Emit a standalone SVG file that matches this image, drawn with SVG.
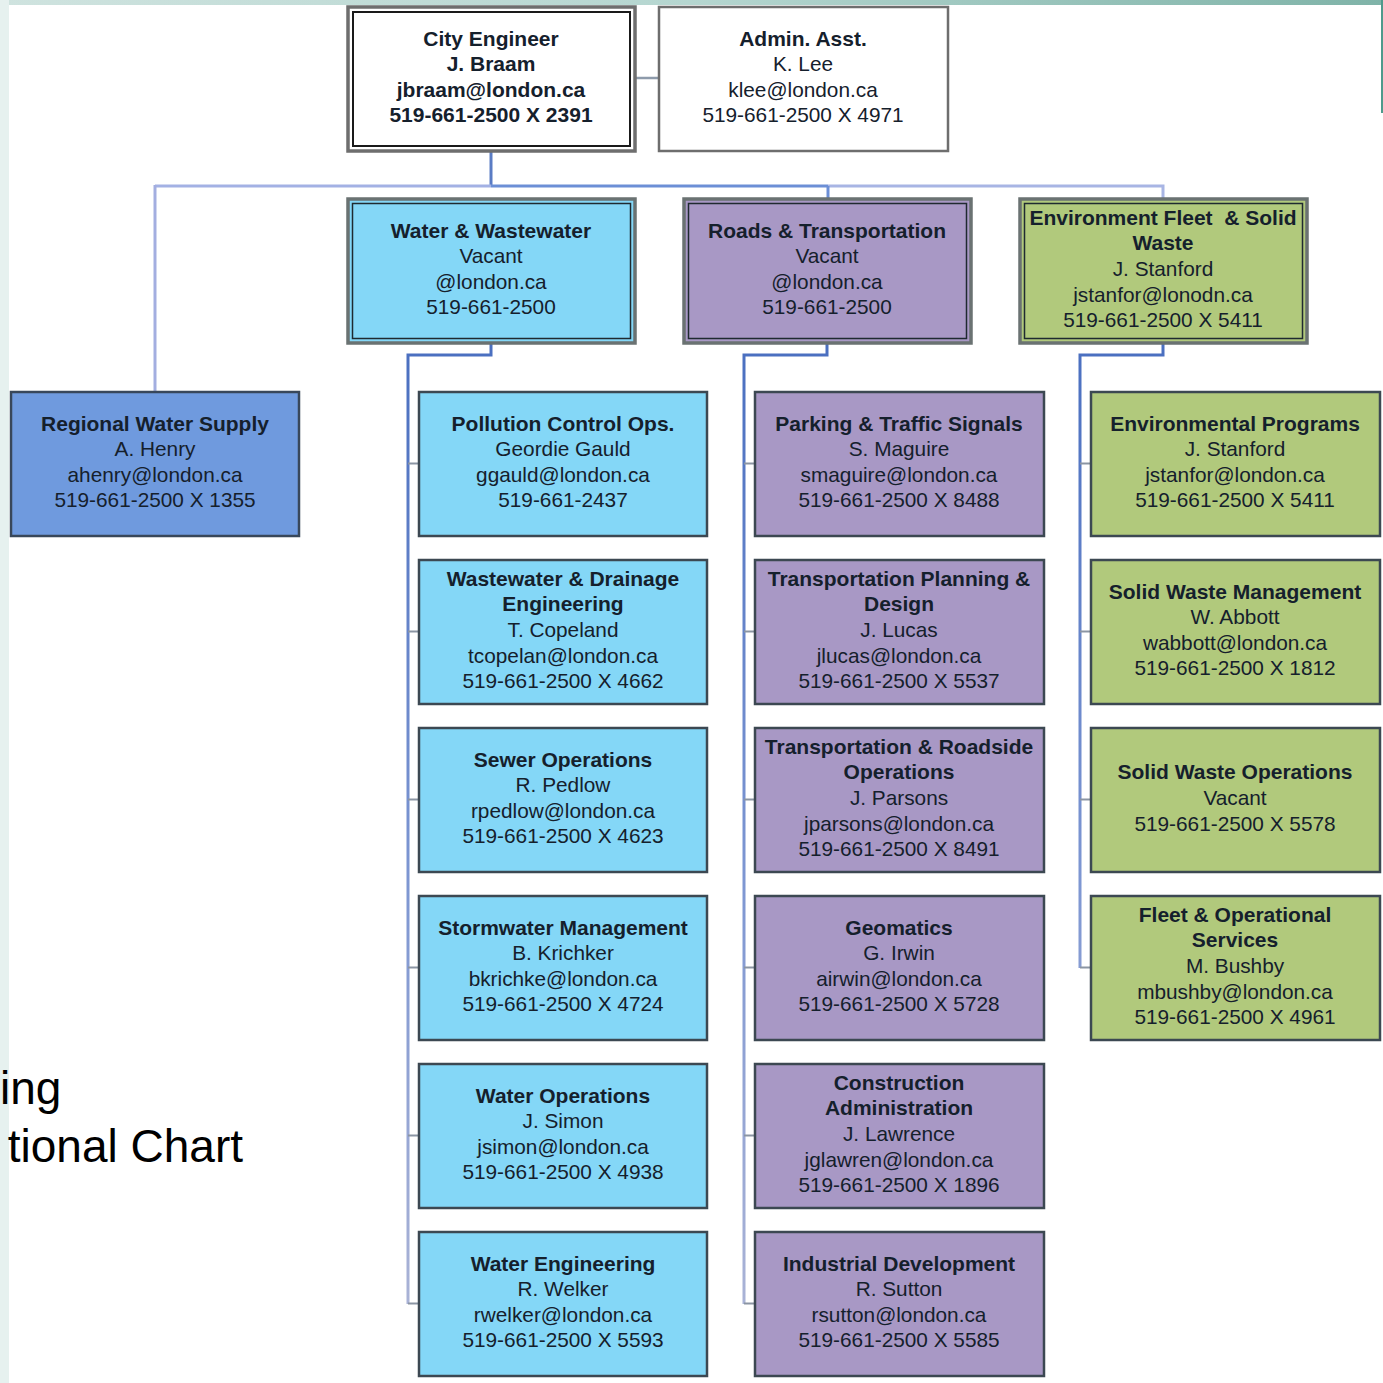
<svg xmlns="http://www.w3.org/2000/svg" width="1383" height="1383" viewBox="0 0 1383 1383">
<defs>
<style>
text{text-anchor:middle;font-family:"Liberation Sans",Arial,sans-serif;fill:#15202c}
.b{font-weight:bold;font-size:21px}
.r{font-size:20.8px}
.title{font-size:46px;fill:#000}
.child{stroke:#3c4852;stroke-width:2.5}
.water{fill:#84d7f7}
.roads{fill:#a898c5}
.env{fill:#b1c97c}
.divouter{stroke:#6a7272;stroke-width:3.5}
.divinner{fill:none;stroke:#1f2a30;stroke-width:1.5}
.conn{fill:none;stroke-width:3}
.tick{stroke:#8b95a3;stroke-width:2;fill:none}
</style>
<linearGradient id="trunk" gradientUnits="userSpaceOnUse" x1="0" y1="343" x2="0" y2="1310">
<stop offset="0" stop-color="#4a6fc0"/>
<stop offset="0.55" stop-color="#7d96d2"/>
<stop offset="1" stop-color="#aab3d6"/>
</linearGradient>
<linearGradient id="topband" x1="0" y1="0" x2="1" y2="0">
<stop offset="0" stop-color="#cfe3df"/>
<stop offset="0.5" stop-color="#b5d6d0"/>
<stop offset="1" stop-color="#7fb3a8"/>
</linearGradient>
</defs>
<rect x="0" y="0" width="1383" height="1383" fill="#ffffff"/>
<g id="background">
<rect x="0" y="0" width="1383" height="5" fill="url(#topband)"/>
<rect x="0" y="0" width="9" height="1383" fill="#e6f1ef"/>
<rect x="1381" y="0" width="2" height="113" fill="#4f9a8c"/>
</g>
<g id="title">
<text class="title" x="0" y="1104" style="text-anchor:start">ing</text>
<text class="title" x="243" y="1162" style="text-anchor:end">tional Chart</text>
</g>
<g id="connectors">
<line x1="635" y1="78" x2="659" y2="78" stroke="#8e9bab" stroke-width="2.5"/>
<line x1="491" y1="151" x2="491" y2="187" stroke="#5a7cc4" stroke-width="3"/>
<line x1="155" y1="186" x2="491" y2="186" stroke="#a3b1e4" stroke-width="3"/>
<line x1="491" y1="186" x2="828" y2="186" stroke="#6c8fd6" stroke-width="3"/>
<polyline points="828,186 1163,186 1163,198" fill="none" stroke="#a8b5e4" stroke-width="3"/>
<line x1="155" y1="185" x2="155" y2="391" stroke="#a3aee0" stroke-width="3"/>
<line x1="828" y1="186" x2="828" y2="198" stroke="#6c8fd6" stroke-width="3"/>
<polyline class="conn" points="491,343 491,355 408,355 408,1304" stroke="url(#trunk)"/>
<polyline class="conn" points="827,343 827,355 744,355 744,1304" stroke="url(#trunk)"/>
<polyline class="conn" points="1163,343 1163,355 1080,355 1080,968" stroke="url(#trunk)"/>
<path class="tick" d="M408 463.5H419M408 631.5H419M408 799.5H419M408 967.5H419M408 1135.5H419M408 1303.5H419"/>
<path class="tick" d="M744 463.5H755M744 631.5H755M744 799.5H755M744 967.5H755M744 1135.5H755M744 1303.5H755"/>
<path class="tick" d="M1080 463.5H1091M1080 631.5H1091M1080 799.5H1091M1080 967.5H1091"/>
</g>
<g id="city-engineer">
<rect x="348" y="7" width="287" height="144" fill="#fff" stroke="#6e6e6e" stroke-width="3.5"/>
<rect x="353" y="12" width="277" height="134" fill="none" stroke="#1a1a1a" stroke-width="2"/>
<text x="491" y="45.6"><tspan class="b" x="491">City Engineer</tspan><tspan class="b" x="491" dy="25.6">J. Braam</tspan><tspan class="b" x="491" dy="25.6">jbraam@london.ca</tspan><tspan class="b" x="491" dy="25.6">519-661-2500 X 2391</tspan></text>
</g>
<g id="admin-asst">
<rect x="659" y="7" width="289" height="144" fill="#fff" stroke="#6e6e6e" stroke-width="2.5"/>
<text x="803" y="45.6"><tspan class="b" x="803">Admin. Asst.</tspan><tspan class="r" x="803" dy="25.6">K. Lee</tspan><tspan class="r" x="803" dy="25.6">klee@london.ca</tspan><tspan class="r" x="803" dy="25.6">519-661-2500 X 4971</tspan></text>
</g>
<g id="water-wastewater">
<rect class="water divouter" x="348" y="199" width="287" height="144"/>
<rect class="divinner" x="352.5" y="203.5" width="278" height="135"/>
<text x="491" y="237.6"><tspan class="b" x="491">Water &amp; Wastewater</tspan><tspan class="r" x="491" dy="25.6">Vacant</tspan><tspan class="r" x="491" dy="25.6">@london.ca</tspan><tspan class="r" x="491" dy="25.6">519-661-2500</tspan></text>
</g>
<g id="roads-transportation">
<rect class="roads divouter" x="684" y="199" width="287" height="144"/>
<rect class="divinner" x="688.5" y="203.5" width="278" height="135"/>
<text x="827" y="237.6"><tspan class="b" x="827">Roads &amp; Transportation</tspan><tspan class="r" x="827" dy="25.6">Vacant</tspan><tspan class="r" x="827" dy="25.6">@london.ca</tspan><tspan class="r" x="827" dy="25.6">519-661-2500</tspan></text>
</g>
<g id="environment-fleet">
<rect class="env divouter" x="1020" y="199" width="287" height="144"/>
<rect class="divinner" x="1024.5" y="203.5" width="278" height="135"/>
<text x="1163" y="224.8" style="white-space:pre"><tspan class="b" x="1163">Environment Fleet  &amp; Solid</tspan><tspan class="b" x="1163" dy="25.6">Waste</tspan><tspan class="r" x="1163" dy="25.6">J. Stanford</tspan><tspan class="r" x="1163" dy="25.6">jstanfor@lonodn.ca</tspan><tspan class="r" x="1163" dy="25.6">519-661-2500 X 5411</tspan></text>
</g>
<g id="regional-water-supply">
<rect x="11" y="392" width="288" height="144" fill="#6f9ade" stroke="#38475a" stroke-width="2.5"/>
<text x="155" y="430.6"><tspan class="b" x="155">Regional Water Supply</tspan><tspan class="r" x="155" dy="25.6">A. Henry</tspan><tspan class="r" x="155" dy="25.6">ahenry@london.ca</tspan><tspan class="r" x="155" dy="25.6">519-661-2500 X 1355</tspan></text>
</g>
<g id="pollution-control">
<rect class="child water" x="419" y="392" width="288" height="144"/>
<text x="563" y="430.6"><tspan class="b" x="563">Pollution Control Ops.</tspan><tspan class="r" x="563" dy="25.6">Geordie Gauld</tspan><tspan class="r" x="563" dy="25.6">ggauld@london.ca</tspan><tspan class="r" x="563" dy="25.6">519-661-2437</tspan></text>
</g>
<g id="wastewater-drainage">
<rect class="child water" x="419" y="560" width="288" height="144"/>
<text x="563" y="585.8"><tspan class="b" x="563">Wastewater &amp; Drainage</tspan><tspan class="b" x="563" dy="25.6">Engineering</tspan><tspan class="r" x="563" dy="25.6">T. Copeland</tspan><tspan class="r" x="563" dy="25.6">tcopelan@london.ca</tspan><tspan class="r" x="563" dy="25.6">519-661-2500 X 4662</tspan></text>
</g>
<g id="sewer-operations">
<rect class="child water" x="419" y="728" width="288" height="144"/>
<text x="563" y="766.6"><tspan class="b" x="563">Sewer Operations</tspan><tspan class="r" x="563" dy="25.6">R. Pedlow</tspan><tspan class="r" x="563" dy="25.6">rpedlow@london.ca</tspan><tspan class="r" x="563" dy="25.6">519-661-2500 X 4623</tspan></text>
</g>
<g id="stormwater-management">
<rect class="child water" x="419" y="896" width="288" height="144"/>
<text x="563" y="934.6"><tspan class="b" x="563">Stormwater Management</tspan><tspan class="r" x="563" dy="25.6">B. Krichker</tspan><tspan class="r" x="563" dy="25.6">bkrichke@london.ca</tspan><tspan class="r" x="563" dy="25.6">519-661-2500 X 4724</tspan></text>
</g>
<g id="water-operations">
<rect class="child water" x="419" y="1064" width="288" height="144"/>
<text x="563" y="1102.6"><tspan class="b" x="563">Water Operations</tspan><tspan class="r" x="563" dy="25.6">J. Simon</tspan><tspan class="r" x="563" dy="25.6">jsimon@london.ca</tspan><tspan class="r" x="563" dy="25.6">519-661-2500 X 4938</tspan></text>
</g>
<g id="water-engineering">
<rect class="child water" x="419" y="1232" width="288" height="144"/>
<text x="563" y="1270.6"><tspan class="b" x="563">Water Engineering</tspan><tspan class="r" x="563" dy="25.6">R. Welker</tspan><tspan class="r" x="563" dy="25.6">rwelker@london.ca</tspan><tspan class="r" x="563" dy="25.6">519-661-2500 X 5593</tspan></text>
</g>
<g id="parking-traffic">
<rect class="child roads" x="755" y="392" width="289" height="144"/>
<text x="899" y="430.6"><tspan class="b" x="899">Parking &amp; Traffic Signals</tspan><tspan class="r" x="899" dy="25.6">S. Maguire</tspan><tspan class="r" x="899" dy="25.6">smaguire@london.ca</tspan><tspan class="r" x="899" dy="25.6">519-661-2500 X 8488</tspan></text>
</g>
<g id="transportation-planning">
<rect class="child roads" x="755" y="560" width="289" height="144"/>
<text x="899" y="585.8"><tspan class="b" x="899">Transportation Planning &amp;</tspan><tspan class="b" x="899" dy="25.6">Design</tspan><tspan class="r" x="899" dy="25.6">J. Lucas</tspan><tspan class="r" x="899" dy="25.6">jlucas@london.ca</tspan><tspan class="r" x="899" dy="25.6">519-661-2500 X 5537</tspan></text>
</g>
<g id="transportation-roadside">
<rect class="child roads" x="755" y="728" width="289" height="144"/>
<text x="899" y="753.8"><tspan class="b" x="899">Transportation &amp; Roadside</tspan><tspan class="b" x="899" dy="25.6">Operations</tspan><tspan class="r" x="899" dy="25.6">J. Parsons</tspan><tspan class="r" x="899" dy="25.6">jparsons@london.ca</tspan><tspan class="r" x="899" dy="25.6">519-661-2500 X 8491</tspan></text>
</g>
<g id="geomatics">
<rect class="child roads" x="755" y="896" width="289" height="144"/>
<text x="899" y="934.6"><tspan class="b" x="899">Geomatics</tspan><tspan class="r" x="899" dy="25.6">G. Irwin</tspan><tspan class="r" x="899" dy="25.6">airwin@london.ca</tspan><tspan class="r" x="899" dy="25.6">519-661-2500 X 5728</tspan></text>
</g>
<g id="construction-administration">
<rect class="child roads" x="755" y="1064" width="289" height="144"/>
<text x="899" y="1089.8"><tspan class="b" x="899">Construction</tspan><tspan class="b" x="899" dy="25.6">Administration</tspan><tspan class="r" x="899" dy="25.6">J. Lawrence</tspan><tspan class="r" x="899" dy="25.6">jglawren@london.ca</tspan><tspan class="r" x="899" dy="25.6">519-661-2500 X 1896</tspan></text>
</g>
<g id="industrial-development">
<rect class="child roads" x="755" y="1232" width="289" height="144"/>
<text x="899" y="1270.6"><tspan class="b" x="899">Industrial Development</tspan><tspan class="r" x="899" dy="25.6">R. Sutton</tspan><tspan class="r" x="899" dy="25.6">rsutton@london.ca</tspan><tspan class="r" x="899" dy="25.6">519-661-2500 X 5585</tspan></text>
</g>
<g id="environmental-programs">
<rect class="child env" x="1091" y="392" width="289" height="144"/>
<text x="1235" y="430.6"><tspan class="b" x="1235">Environmental Programs</tspan><tspan class="r" x="1235" dy="25.6">J. Stanford</tspan><tspan class="r" x="1235" dy="25.6">jstanfor@london.ca</tspan><tspan class="r" x="1235" dy="25.6">519-661-2500 X 5411</tspan></text>
</g>
<g id="solid-waste-management">
<rect class="child env" x="1091" y="560" width="289" height="144"/>
<text x="1235" y="598.6"><tspan class="b" x="1235">Solid Waste Management</tspan><tspan class="r" x="1235" dy="25.6">W. Abbott</tspan><tspan class="r" x="1235" dy="25.6">wabbott@london.ca</tspan><tspan class="r" x="1235" dy="25.6">519-661-2500 X 1812</tspan></text>
</g>
<g id="solid-waste-operations">
<rect class="child env" x="1091" y="728" width="289" height="144"/>
<text x="1235" y="779.4"><tspan class="b" x="1235">Solid Waste Operations</tspan><tspan class="r" x="1235" dy="25.6">Vacant</tspan><tspan class="r" x="1235" dy="25.6">519-661-2500 X 5578</tspan></text>
</g>
<g id="fleet-operational">
<rect class="child env" x="1091" y="896" width="289" height="144"/>
<text x="1235" y="921.8"><tspan class="b" x="1235">Fleet &amp; Operational</tspan><tspan class="b" x="1235" dy="25.6">Services</tspan><tspan class="r" x="1235" dy="25.6">M. Bushby</tspan><tspan class="r" x="1235" dy="25.6">mbushby@london.ca</tspan><tspan class="r" x="1235" dy="25.6">519-661-2500 X 4961</tspan></text>
</g>
</svg>
